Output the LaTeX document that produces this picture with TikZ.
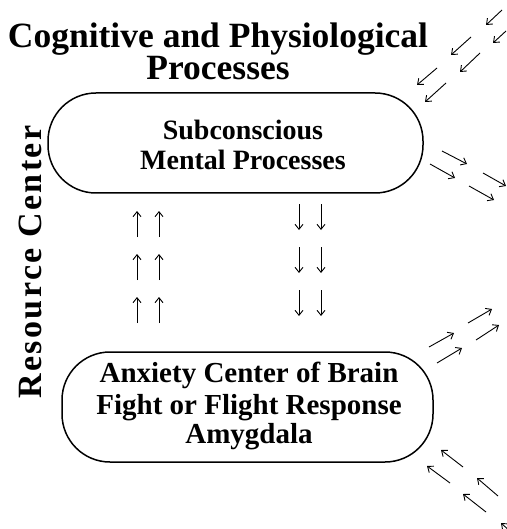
\documentclass[tikz,border=0pt]{standalone}
\usepackage{fontspec}
\setmainfont{Liberation Serif}
\newfontfamily\spacedfont[LetterSpace=7]{Liberation Serif}
\usetikzlibrary{arrows.meta}
\begin{document}
\begin{tikzpicture}[x=1pt,y=-1pt,
  titletext/.style={font=\bfseries\fontsize{35.5}{38}\selectfont, anchor=base, inner sep=0pt},
  boxtext/.style={font=\bfseries\fontsize{28}{30}\selectfont, anchor=base, inner sep=0pt},
  lowtext/.style={font=\bfseries\fontsize{29}{31}\selectfont, anchor=base, inner sep=0pt},
  roundbox/.style={draw, line width=1.5pt, rounded corners=48pt, inner sep=0pt},
  flowarrow/.style={line width=0.9pt, -{Straight Barb[length=5pt,width=8pt,line width=0.9pt]}},
  ray/.style={line width=0.9pt, -{Straight Barb[length=5pt,width=8pt,line width=0.9pt]}}]
\useasboundingbox (0,0) rectangle (506,529);
\fill[white] (0,0) rectangle (506,529);

% title
\node[titletext] (t1) at (218,48) {Cognitive and Physiological};
\node[titletext] (t2) at (218,80) {Processes};

% side label
\node[font=\spacedfont\bfseries\fontsize{34}{36}\selectfont, rotate=90, inner sep=0pt] (rc) at (30,262) {Resource Center};

% top box
\node[roundbox, minimum width=375pt, minimum height=100pt] (sub) at (235.5,143) {};
\node[boxtext] (s1) at (243,140) {Subconscious};
\node[boxtext] (s2) at (243,170) {Mental Processes};

% bottom box
\node[roundbox, minimum width=371pt, minimum height=110pt] (amy) at (247.5,407) {};
\node[lowtext] (a1) at (249,382) {Anxiety Center of Brain};
\node[lowtext] (a2) at (249,414) {Fight or Flight Response};
\node[lowtext] (a3) at (249,443) {Amygdala};

% up arrows
\foreach \y in {237,280,323}{
  \draw[flowarrow] (137,\y) -- ++(0,-26);
  \draw[flowarrow] (159,\y) -- ++(0,-26);
}
% down arrows
\foreach \y in {204,247,290}{
  \draw[flowarrow] (299,\y) -- ++(0,26);
  \draw[flowarrow] (321,\y) -- ++(0,26);
}

% rays top right (pointing down-left)
\draw[ray] (502,10) -- (486,25);
\draw[ray] (506,31) -- (493,43);
\draw[ray] (471,37) -- (451,55);
\draw[ray] (480,53) -- (460,72);
\draw[ray] (437,68) -- (417,85);
\draw[ray] (446,83) -- (425,102);

% rays right (pointing down-right)
\draw[ray] (442,151) -- (467,164);
\draw[ray] (430,164) -- (455,178);
\draw[ray] (483,173) -- (506,186);
\draw[ray] (469,186) -- (494,200);

% rays right (pointing up-right)
\draw[ray] (468,323) -- (492,309);
\draw[ray] (429,347) -- (454,333);
\draw[ray] (476,340) -- (499,325);
\draw[ray] (437,363) -- (462,348);

% rays bottom right (pointing up-left)
\draw[ray] (463,467) -- (441,450);
\draw[ray] (450,483) -- (427,466);
\draw[ray] (498,496) -- (477,478);
\draw[ray] (486,512) -- (463,494);
\draw[ray] (512,533) -- (501,523);
\end{tikzpicture}
\end{document}
